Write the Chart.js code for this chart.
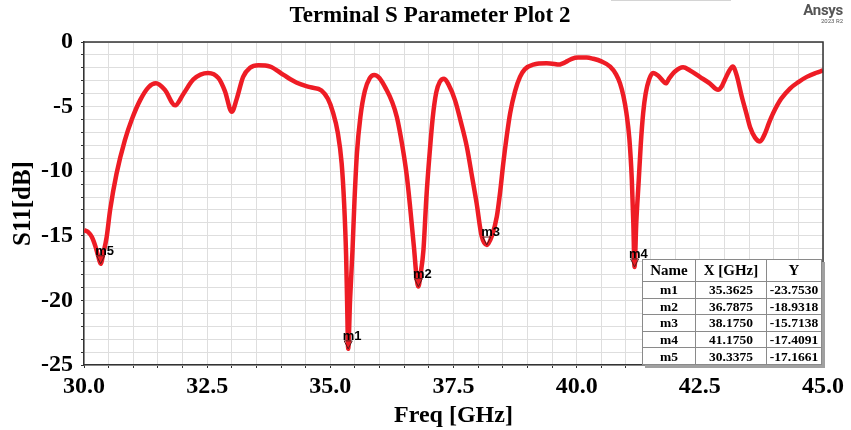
<!DOCTYPE html>
<html>
<head>
<meta charset="utf-8">
<script src="https://cdn.jsdelivr.net/npm/chart.js@4.4.0/dist/chart.umd.min.js"></script>
<style>
  html, body { margin: 0; padding: 0; background: #ffffff; }
  #wrap { position: relative; width: 851px; height: 430px; overflow: hidden; background: #fff; }
  #chart { position: absolute; left: 0; top: 0; }
  #title { position: absolute; top: 1px; left: 430px; transform: translateX(-50%);
           font: bold 23px "Liberation Serif", "Times New Roman", serif; color: #000; white-space: nowrap; line-height: 28px; }
  #topbox { position: absolute; left: 611px; top: 0px; width: 120px; height: 1px; background: #d4d4d4; }
  #logo { position: absolute; right: 8px; top: 3px; text-align: right; color: #555; font-family: Roboto, "Liberation Sans", sans-serif; }
  #logo .a { font-weight: bold; font-size: 15px; line-height: 15px; letter-spacing: -0.3px; }
  #logo .b { font-size: 6px; line-height: 6px; }
  #mtable { position: absolute; left: 642px; top: 259px; border-collapse: collapse; background: #fff;
            border: 1.5px solid #222; box-shadow: 3px 3px 0 #a0a0a0;
            font-family: "Liberation Serif", "Times New Roman", serif; font-weight: bold; color: #000; }
  #mtable th, #mtable td { border: 1px solid #8a8a8a; text-align: center; padding: 0; }
  #mtable th { font-size: 15px; height: 21px; }
  #mtable td { font-size: 13.5px; height: 15.6px; line-height: 15px; }
</style>
</head>
<body>
<div id="wrap">
  <canvas id="chart" width="851" height="430"></canvas>
  <div id="topbox"></div>
  <div id="title">Terminal S Parameter Plot 2</div>
  <div id="logo"><div class="a">Ansys</div><div class="b">2023 R2</div></div>
  <table id="mtable">
    <thead><tr><th style="width:52px">Name</th><th style="width:70px">X [GHz]</th><th style="width:54px">Y</th></tr></thead>
    <tbody id="mbody"></tbody>
  </table>
</div>
<script>
// ---- data ----
const freq = [
  30.00, 30.08, 30.16, 30.23, 30.29, 30.3375, 30.39, 30.46, 30.53, 30.66, 30.83, 30.97, 31.14, 31.31, 31.46,
  31.64, 31.85, 32.02, 32.22, 32.52, 32.73, 32.86, 33.00, 33.10, 33.23, 33.37, 33.54, 33.78, 34.05, 34.32,
  34.59, 34.82, 34.95, 35.05, 35.15, 35.23, 35.28, 35.32, 35.34, 35.3625, 35.40, 35.45, 35.49, 35.54, 35.61,
  35.70, 35.80, 35.89, 36.00, 36.14, 36.25, 36.35, 36.46, 36.55, 36.62, 36.70, 36.75, 36.7875, 36.83, 36.89,
  36.95, 37.02, 37.08, 37.15, 37.22, 37.31, 37.40, 37.53, 37.65, 37.77, 37.88, 37.97, 38.07, 38.175, 38.28,
  38.38, 38.45, 38.51, 38.58, 38.65, 38.75, 38.85, 38.95, 39.12, 39.39, 39.55, 39.63, 39.72, 39.80, 39.90,
  40.03, 40.20, 40.34, 40.50, 40.68, 40.80, 40.88, 40.95, 41.01, 41.07, 41.12, 41.15, 41.175, 41.21, 41.26,
  41.30, 41.35, 41.40, 41.47, 41.55, 41.65, 41.75, 41.81, 41.88, 41.99, 42.16, 42.30, 42.50, 42.70, 42.87,
  42.95, 43.01, 43.10, 43.17, 43.25, 43.35, 43.45, 43.52, 43.62, 43.72, 43.82, 43.90, 43.99, 44.15, 44.33,
  44.50, 44.67, 44.85, 45.00
];
const s11 = [
  -14.55, -14.7, -15.1, -15.8, -16.6, -17.17, -16.4, -15.1, -13.0, -10.2, -7.6, -6.0, -4.5, -3.5, -3.2,
  -3.7, -4.9, -4.0, -2.9, -2.4, -2.8, -3.8, -5.4, -4.4, -2.7, -2.0, -1.8, -1.9, -2.55, -3.15,
  -3.5, -3.75, -4.4, -5.4, -7.0, -9.4, -12.5, -16.5, -20.0, -23.75, -20.0, -16.1, -12.3, -8.6, -5.8,
  -3.8, -2.8, -2.55, -2.8, -3.7, -4.6, -5.8, -8.0, -10.3, -12.8, -16.0, -18.2, -18.93, -18.0, -16.1,
  -12.0, -8.4, -5.8, -3.9, -3.1, -2.85, -3.3, -4.5, -6.2, -8.1, -10.5, -12.5, -15.0, -15.71, -15.0,
  -13.5, -11.5, -9.4, -7.3, -5.5, -3.8, -2.7, -2.1, -1.75, -1.65, -1.7, -1.75, -1.65, -1.5, -1.3,
  -1.2, -1.2, -1.3, -1.5, -1.9, -2.5, -3.2, -4.2, -5.5, -7.5, -10.7, -14.0, -17.41, -14.0, -10.7,
  -8.0, -5.5, -4.0, -2.9, -2.4, -2.6, -3.0, -3.2, -2.8, -2.3, -1.96, -2.2, -2.7, -3.2, -3.7,
  -3.4, -2.9, -2.2, -1.9, -2.6, -4.2, -5.6, -6.6, -7.4, -7.7, -7.1, -6.3, -5.5, -4.4, -3.6,
  -3.1, -2.7, -2.4, -2.2
];
const markerNames = ['m1', 'm2', 'm3', 'm4', 'm5'];
const markerX = [35.3625, 36.7875, 38.1750, 41.1750, 30.3375];
const markerY = [-23.7530, -18.9318, -15.7138, -17.4091, -17.1661];
const xTickLabels = ['30.0', '32.5', '35.0', '37.5', '40.0', '42.5', '45.0'];
const yTickLabels = ['0', '-5', '-10', '-15', '-20', '-25'];

// ---- marker table ----
const tb = document.getElementById('mbody');
markerNames.forEach((n, i) => {
  const tr = document.createElement('tr');
  [n, markerX[i].toFixed(4), markerY[i].toFixed(4)].forEach(t => {
    const td = document.createElement('td'); td.textContent = t; tr.appendChild(td);
  });
  tb.appendChild(tr);
});

const serifBold = (size) => ({ family: '"Liberation Serif", "Times New Roman", serif', size: size, weight: 'bold' });

const framePlugin = {
  id: 'frame',
  afterDatasetsDraw(chart) {
    const { ctx, chartArea: a } = chart;
    ctx.save();
    ctx.strokeStyle = '#333';
    ctx.lineWidth = 1.5;
    ctx.beginPath();
    ctx.moveTo(a.left, a.top); ctx.lineTo(a.right, a.top); ctx.lineTo(a.right, a.bottom);
    ctx.stroke();
    ctx.restore();
  }
};

const markerPlugin = {
  id: 'markers',
  afterDatasetsDraw(chart) {
    const { ctx } = chart;
    const xs = chart.scales.x, ys = chart.scales.y;
    ctx.save();
    markerNames.forEach((n, i) => {
      const px = xs.getPixelForValue(markerX[i]);
      const py = ys.getPixelForValue(markerY[i]);
      ctx.beginPath();
      ctx.moveTo(px - 4, py - 8); ctx.lineTo(px + 4, py - 8); ctx.lineTo(px, py); ctx.closePath();
      ctx.strokeStyle = '#5a1a1a'; ctx.lineWidth = 1; ctx.stroke();
      ctx.fillStyle = '#000';
      ctx.font = 'bold 13px "Liberation Sans", Arial, sans-serif';
      ctx.textBaseline = 'alphabetic';
      ctx.textAlign = 'left';
      ctx.fillText(n, px - 5.5, py - 9);
    });
    ctx.restore();
  }
};

const near = (v, arr) => arr.find(s => Math.abs(parseFloat(s) - v) < 1e-6);

new Chart(document.getElementById('chart'), {
  type: 'line',
  data: {
    datasets: [{
      data: freq.map((f, i) => ({ x: f, y: s11[i] })),
      borderColor: '#ee1c25',
      borderWidth: 4.5,
      pointRadius: 0,
      cubicInterpolationMode: 'monotone',
      fill: false
    }]
  },
  options: {
    responsive: false,
    animation: false,
    events: [],
    layout: { padding: { top: 42, right: 28, bottom: 0, left: 0 } },
    plugins: { legend: { display: false }, tooltip: { enabled: false }, title: { display: false } },
    scales: {
      x: {
        type: 'linear', min: 30, max: 45,
        afterFit(s) { s.height = 65; },
        ticks: {
          stepSize: 0.5, autoSkip: false, maxRotation: 0, padding: 4, color: '#000', font: serifBold(24),
          callback: (v) => near(v, xTickLabels) || ''
        },
        grid: { color: '#dedede', lineWidth: 1, tickLength: 3, tickColor: '#333', tickWidth: 1 },
        border: { color: '#333', width: 1.5 },
        title: { display: true, text: 'Freq [GHz]', color: '#000', font: serifBold(24), padding: { top: 0, bottom: 0 } }
      },
      y: {
        min: -25, max: 0,
        afterFit(s) { s.width = 84; },
        ticks: {
          stepSize: 1, autoSkip: false, padding: 8, color: '#000', font: serifBold(24),
          callback: (v) => near(v, yTickLabels) || ''
        },
        grid: { color: '#dedede', lineWidth: 1, tickLength: 3, tickColor: '#333', tickWidth: 1 },
        border: { color: '#333', width: 1.5 },
        title: { display: true, text: 'S11[dB]', color: '#000', font: serifBold(25), padding: { top: 9, bottom: 0 } }
      }
    }
  },
  plugins: [framePlugin, markerPlugin]
});
</script>
</body>
</html>
